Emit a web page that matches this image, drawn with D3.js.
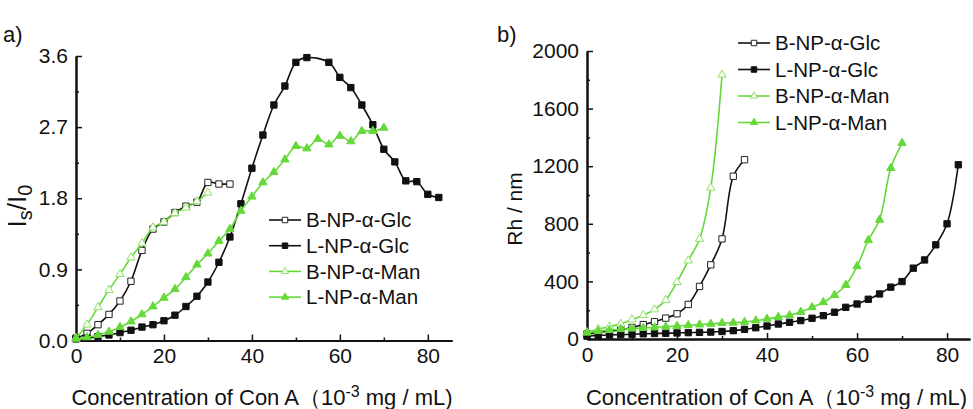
<!DOCTYPE html>
<html>
<head>
<meta charset="utf-8">
<script src="https://cdn.jsdelivr.net/npm/d3@7"></script>
<style>
  body { margin: 0; background: #fff; }
  svg { display: block; font-family: Arial, "Liberation Sans", sans-serif; }
</style>
</head>
<body>
<svg id="chart" width="973" height="409"></svg>
<script>
// -- Data --
const seriesNames = ["B-NP-α-Glc", "L-NP-α-Glc", "B-NP-α-Man", "L-NP-α-Man"];

// Con A concentrations (10^-3 mg/mL)
const conc35 = [0, 2.5, 5, 7.5, 10, 12.5, 15, 17.5, 20, 22.5, 25, 27.5, 30, 32.5, 35];
const conc30 = [0, 2.5, 5, 7.5, 10, 12.5, 15, 17.5, 20, 22.5, 25, 27.5, 30];
const conc70 = [0, 2.5, 5, 7.5, 10, 12.5, 15, 17.5, 20, 22.5, 25, 27.5, 30, 32.5, 35,
  37.5, 40, 42.5, 45, 47.5, 50, 52.5, 55, 57.5, 60, 62.5, 65, 67.5, 70];
const conc82 = [0, 2.5, 5, 7.5, 10, 12.5, 15, 17.5, 20, 22.5, 25, 27.5, 30, 32.5, 35,
  37.5, 40, 42.5, 45, 47.5, 50, 52.5, 55, 57.5, 60, 62.5, 65, 67.5, 70, 72.5, 75, 77.5, 80, 82.5];
const conc82Peak = [0, 2.5, 5, 7.5, 10, 12.5, 15, 17.5, 20, 22.5, 25, 27.5, 30, 32.5, 35,
  37.5, 40, 42.5, 45, 47.5, 50, 52.5, 57.5, 60, 62.5, 65, 67.5, 70, 72.5, 75, 77.5, 80, 82.5];

// panel a: Is/I0
const isBGlc = [0.03, 0.09, 0.2, 0.33, 0.5, 0.75, 1.14, 1.41, 1.5, 1.62, 1.7, 1.75, 2.0, 1.98, 1.98];
const isLGlc = [0.02, 0.03, 0.05, 0.07, 0.1, 0.13, 0.17, 0.2, 0.25, 0.32, 0.43, 0.56, 0.74, 0.99, 1.31,
  1.73, 2.18, 2.6, 2.98, 3.22, 3.52, 3.58, 3.52, 3.33, 3.2, 2.98, 2.73, 2.42, 2.26, 2.02, 2.01, 1.85, 1.81];
const isBMan = [0.03, 0.2, 0.42, 0.64, 0.84, 1.05, 1.23, 1.43, 1.5, 1.61, 1.68, 1.76, 1.87];
const isLMan = [0.02, 0.04, 0.07, 0.11, 0.17, 0.24, 0.33, 0.43, 0.54, 0.65, 0.8, 0.96, 1.1, 1.26, 1.41,
  1.64, 1.82, 2.0, 2.13, 2.29, 2.46, 2.43, 2.55, 2.48, 2.59, 2.52, 2.65, 2.65, 2.69];

// panel b: Rh (nm)
const rhBGlc = [35, 45, 55, 65, 80, 100, 120, 145, 175, 240, 365, 515, 695, 1130, 1245];
const rhLGlc = [20, 25, 28, 30, 33, 36, 38, 40, 42, 44, 46, 48, 52, 58, 67, 78, 90, 104, 116, 128,
  144, 162, 186, 220, 243, 276, 313, 360, 399, 492, 549, 654, 800, 1210];
const rhBMan = [45, 70, 85, 105, 135, 165, 205, 270, 395, 545, 695, 1050, 1835];
const rhLMan = [45, 55, 62, 68, 72, 76, 80, 85, 90, 95, 100, 105, 110, 113, 118, 128, 140, 152, 165,
  188, 220, 255, 305, 375, 505, 686, 828, 1187, 1361];

// tick labels
const xTicks = [0, 20, 40, 60, 80];
const xMinorTicks = [10, 30, 50, 70];
const isTicks = [0, 0.9, 1.8, 2.7, 3.6];
const isMinorTicks = [0.45, 1.35, 2.25, 3.15];
const rhTicks = [0, 400, 800, 1200, 1600, 2000];
const rhMinorTicks = [200, 600, 1000, 1400, 1800];

// -- Styles --
const GREEN = "#66d93a";
const styles = [
  { line: "#111", fill: "#fff", stroke: "#222", shape: d3.symbolSquare, size: 40 },
  { line: "#111", fill: "#111", stroke: "#111", shape: d3.symbolSquare, size: 40 },
  { line: GREEN, fill: "#fbfff8", stroke: "#8fe06c", shape: d3.symbolTriangle, size: 30 },
  { line: GREEN, fill: GREEN, stroke: GREEN, shape: d3.symbolTriangle, size: 30 }
];

const svg = d3.select("#chart");

function styleAxis(sel) {
  sel.select(".domain").attr("stroke", "#111").attr("stroke-width", 2);
  sel.selectAll(".tick line").attr("stroke", "#111").attr("stroke-width", 1.5);
  sel.selectAll(".tick text").attr("fill", "#111").style("font-size", "21px")
    .style("font-family", "Arial, 'Liberation Sans', sans-serif");
}

function drawPanel(p) {
  const g = svg.append("g");
  const x = d3.scaleLinear().domain(p.xDomain).range(p.xRange);
  const y = d3.scaleLinear().domain(p.yDomain).range(p.yRange);

  // Minor ticks first, majors on top.
  g.append("g").attr("transform", `translate(0,${p.yRange[0]})`)
    .call(d3.axisBottom(x).tickValues(xMinorTicks).tickSize(-3).tickSizeOuter(0).tickFormat(""))
    .call(styleAxis);
  g.append("g").attr("transform", `translate(${p.xRange[0]},0)`)
    .call(d3.axisLeft(y).tickValues(p.yMinor).tickSize(-3).tickSizeOuter(0).tickFormat(""))
    .call(styleAxis);
  g.append("g").attr("transform", `translate(0,${p.yRange[0]})`)
    .call(d3.axisBottom(x).tickValues(xTicks).tickSize(-6).tickSizeOuter(0).tickPadding(8))
    .call(styleAxis);
  g.append("g").attr("transform", `translate(${p.xRange[0]},0)`)
    .call(d3.axisLeft(y).tickValues(p.yTicks).tickSize(-6).tickSizeOuter(0).tickPadding(8)
      .tickFormat(p.yFormat))
    .call(styleAxis);

  const line = d3.line()
    .x(d => x(d[0]))
    .y(d => y(d[1]))
    .curve(d3.curveCatmullRom.alpha(0.5));

  p.series.forEach((s, i) => {
    const st = styles[i];
    const pts = s.x.map((c, k) => [c, s.y[k]]);
    g.append("path")
      .attr("d", line(pts))
      .attr("fill", "none")
      .attr("stroke", st.line)
      .attr("stroke-width", 1.6);
    g.selectAll(null).data(pts).enter().append("path")
      .attr("d", d3.symbol().type(st.shape).size(st.size))
      .attr("transform", d => `translate(${x(d[0])},${y(d[1])})`)
      .attr("fill", st.fill)
      .attr("stroke", st.stroke)
      .attr("stroke-width", 1);
  });

  // Legend
  const lg = g.append("g");
  seriesNames.forEach((name, i) => {
    const st = styles[i];
    const ly = p.legend.y + i * p.legend.dy;
    lg.append("line")
      .attr("x1", p.legend.x).attr("x2", p.legend.x + 32)
      .attr("y1", ly).attr("y2", ly)
      .attr("stroke", st.line).attr("stroke-width", 1.6);
    lg.append("path")
      .attr("d", d3.symbol().type(st.shape).size(st.size * 0.75))
      .attr("transform", `translate(${p.legend.x + 16},${ly})`)
      .attr("fill", st.fill).attr("stroke", st.stroke).attr("stroke-width", 1);
    lg.append("text")
      .attr("x", p.legend.x + 37).attr("y", ly)
      .attr("dy", "0.35em")
      .attr("fill", "#111")
      .style("font-size", "20.5px")
      .text(name);
  });

  // Panel letter
  g.append("text")
    .attr("x", p.letterX).attr("y", 42)
    .attr("fill", "#111")
    .style("font-size", "22px")
    .text(p.letter);

  // X axis title
  const xt = g.append("text")
    .attr("x", (p.xRange[0] + p.xRange[1]) / 2 + p.xTitleShift)
    .attr("y", 405)
    .attr("text-anchor", "middle")
    .attr("fill", "#111")
    .style("font-size", "22px");
  xt.append("tspan").text("Concentration of Con A（10");
  xt.append("tspan").attr("dy", -8).style("font-size", "16px").text("-3");
  xt.append("tspan").attr("dy", 8).text(" mg / mL)");

  // Y axis title
  const yt = g.append("text")
    .attr("transform", `translate(${p.yTitle.x},${p.yTitle.y}) rotate(-90)`)
    .attr("text-anchor", "middle")
    .attr("fill", "#111")
    .style("font-size", p.yTitle.size);
  p.yTitle.parts.forEach(part => {
    const ts = yt.append("tspan").text(part.t);
    if (part.sub) ts.attr("dy", 6).style("font-size", "20px");
    if (part.back) ts.attr("dy", -6);
  });
}

drawPanel({
  letter: "a)", letterX: 3,
  xDomain: [0, 85.5], xRange: [76, 452],
  yDomain: [0, 3.6], yRange: [340.5, 56],
  yTicks: isTicks, yMinor: isMinorTicks, yFormat: d3.format(".1f"),
  series: [
    { x: conc35, y: isBGlc },
    { x: conc82Peak, y: isLGlc },
    { x: conc30, y: isBMan },
    { x: conc70, y: isLMan }
  ],
  legend: { x: 269, y: 220, dy: 25.7 },
  xTitleShift: -2,
  yTitle: { x: 26, y: 206, size: "26px", parts: [
    { t: "I" }, { t: "s", sub: true }, { t: "/I", back: true }, { t: "0", sub: true }
  ] }
});

drawPanel({
  letter: "b)", letterX: 497,
  xDomain: [0, 85.1], xRange: [587, 970],
  yDomain: [0, 2000], yRange: [339, 51],
  yTicks: rhTicks, yMinor: rhMinorTicks, yFormat: d3.format("d"),
  series: [
    { x: conc35, y: rhBGlc },
    { x: conc82, y: rhLGlc },
    { x: conc30, y: rhBMan },
    { x: conc70, y: rhLMan }
  ],
  legend: { x: 738, y: 43, dy: 26.5 },
  xTitleShift: -2,
  yTitle: { x: 522, y: 209, size: "21px", parts: [{ t: "Rh / nm" }] }
});
</script>
</body>
</html>
